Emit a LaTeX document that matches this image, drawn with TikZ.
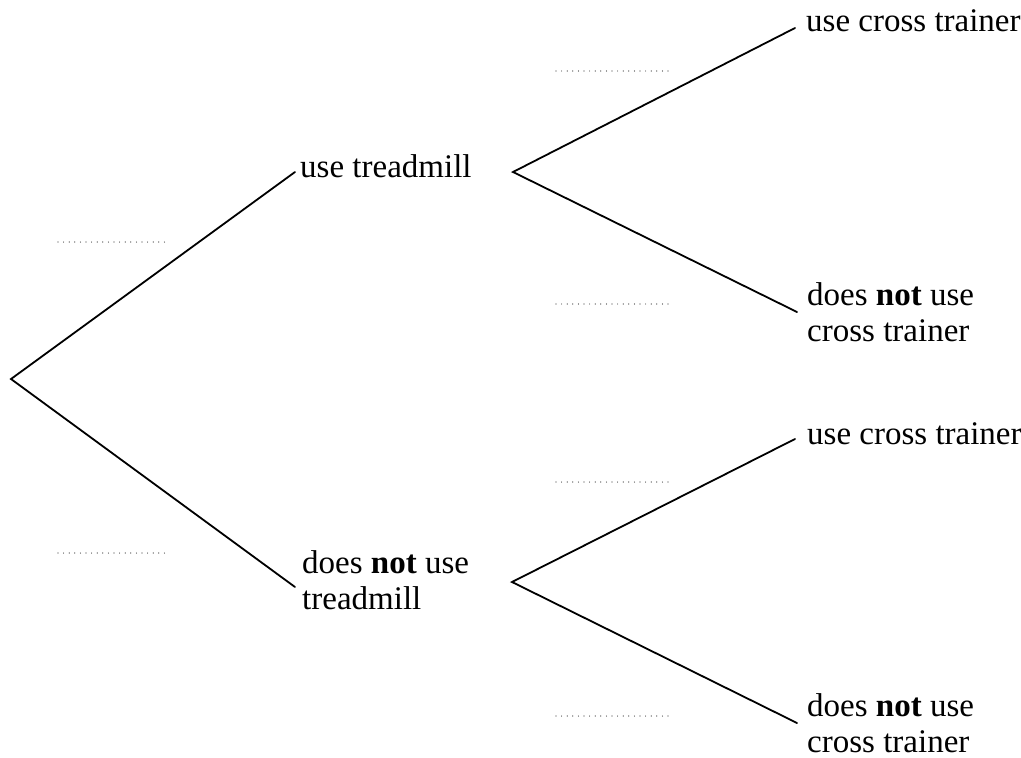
\documentclass[tikz,border=0pt]{standalone}
\usepackage{fontspec}
\setmainfont{Liberation Serif}
\begin{document}
\begin{tikzpicture}[x=1pt,y=-1pt,
  branch/.style={line width=1.8pt, line cap=round, line join=miter},
  lbl/.style={anchor=base west, inner sep=0pt, align=left,
    font=\fontsize{33}{35.5}\selectfont},
  blank/.style={line width=1.2pt, line cap=round, dash pattern=on 0pt off 5.6pt, black!80}]
\useasboundingbox (0,0) rectangle (1021,758);
% branch points
\coordinate (r) at (11,379);
\coordinate (a) at (295,172);
\coordinate (b) at (295,587);
\coordinate (a0) at (513,172);
\coordinate (b0) at (512,582);
\coordinate (a1) at (795,28);
\coordinate (a2) at (797,312);
\coordinate (b1) at (795,439);
\coordinate (b2) at (797,723);
% labels (base anchor = baseline of the last line)
\node[lbl] (t1) at (300,177) {use treadmill};
\node[lbl] (t2) at (302,609) {does \textbf{not} use\\treadmill};
\node[lbl] (c1) at (806,31) {use cross trainer};
\node[lbl] (c2) at (807,341) {does \textbf{not} use\\cross trainer};
\node[lbl] (c3) at (807,444) {use cross trainer};
\node[lbl] (c4) at (807,752) {does \textbf{not} use\\cross trainer};
% branches
\draw[branch] (a) -- (r) -- (b);
\draw[branch] (a1) -- (a0) -- (a2);
\draw[branch] (b1) -- (b0) -- (b2);
% blanks for probabilities
\coordinate (p1s) at (58,242); \coordinate (p1e) at (168,242);
\coordinate (p2s) at (58,553); \coordinate (p2e) at (168,553);
\coordinate (q1s) at (556,71); \coordinate (q1e) at (668,71);
\coordinate (q2s) at (556,304); \coordinate (q2e) at (668,304);
\coordinate (q3s) at (556,482); \coordinate (q3e) at (668,482);
\coordinate (q4s) at (556,716); \coordinate (q4e) at (668,716);
\foreach \s/\e in {p1s/p1e,p2s/p2e,q1s/q1e,q2s/q2e,q3s/q3e,q4s/q4e}
  \draw[blank] (\s) -- (\e);
\end{tikzpicture}
\end{document}
